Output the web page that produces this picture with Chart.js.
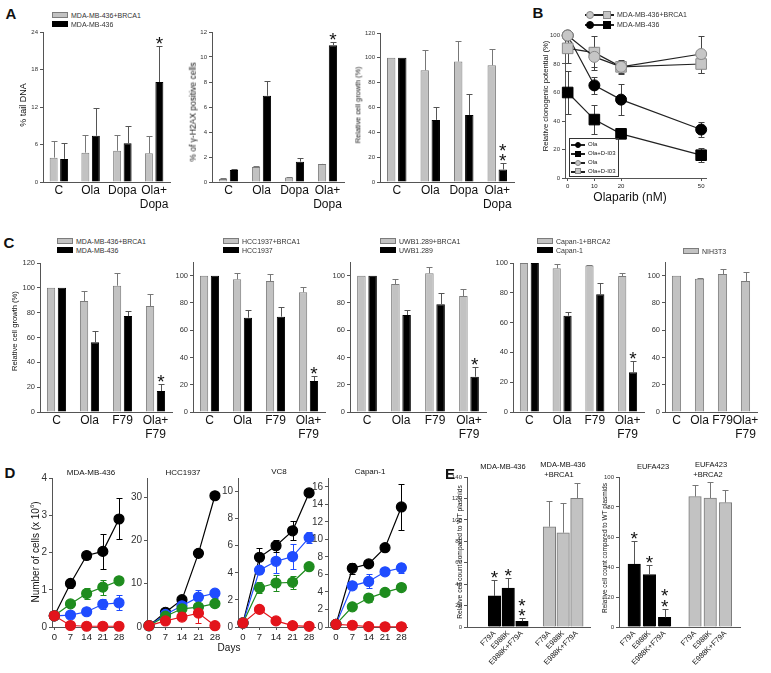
<!DOCTYPE html>
<html>
<head>
<meta charset="utf-8">
<script src="https://cdn.jsdelivr.net/npm/chart.js@4.4.1/dist/chart.umd.min.js"></script>
<style>
  body { margin: 0; background: #fff; }
  #stage { position: relative; width: 771px; height: 673px; overflow: hidden; background: #fff;
           font-family: "Liberation Sans", Arial, sans-serif; color: #111; }
  #stage canvas { position: absolute; }
  .t { position: absolute; white-space: nowrap; line-height: 1; }
  .sw { position: absolute; box-sizing: border-box; }
</style>
</head>
<body>
<div id="stage"></div>
<script>
// ---------- data ----------
// A: comet tail, gamma-H2AX, cell growth
const treatA = ['C', 'Ola', 'Dopa', ['Ola+', 'Dopa']];
const tailBrca1 = [3.9, 4.7, 5.0, 4.6];
const tailBrca1Err = [2.7, 2.9, 2.5, 2.7];
const tailMda = [3.7, 7.4, 6.2, 16.0];
const tailMdaErr = [2.5, 4.4, 2.7, 5.7];
const h2axBrca1 = [0.24, 1.2, 0.37, 1.45];
const h2axBrca1Err = [0.05, 0.08, 0.02, 0.03];
const h2axMda = [0.97, 6.9, 1.63, 10.95];
const h2axMdaErr = [0.08, 1.15, 0.27, 0.22];
const growthBrca1 = [100, 90, 97, 94];
const growthBrca1Err = [0, 16, 16.5, 13];
const growthMda = [100, 50, 54, 10];
const growthMdaErr = [0, 10.5, 16.5, 5.3];
const starsOne = [0, 0, 0, 1];
const starsTwo = [0, 0, 0, 2];

// B: clonogenic potential vs olaparib
const olaDose = [0, 10, 20, 50];
const doseTicks = [0, 10, 20, 50];
const clonoBrcaOla = [100, 85, 78, 87];
const clonoBrcaOlaErr = [0, 7, 4, 13];
const clonoBrcaDi03 = [91, 88, 78, 80];
const clonoBrcaDi03Err = [10, 12, 5, 6];
const clonoMdaOla = [100, 65, 55, 34];
const clonoMdaOlaErr = [0, 6, 11, 5];
const clonoMdaDi03 = [60, 41, 31, 16];
const clonoMdaDi03Err = [15, 10, 3, 5];

// C: relative cell growth, Ola / F79
const treatC = ['C', 'Ola', 'F79', ['Ola+', 'F79']];
const mdaBrca1 = [100, 89.4, 101.7, 85.3];
const mdaBrca1Err = [0, 8.3, 10, 9.4];
const mda436 = [100, 56.1, 77.3, 16.9];
const mda436Err = [0, 9.4, 4, 5.4];
const hccBrca1 = [100, 97.3, 96, 87.8];
const hccBrca1Err = [0, 4.4, 4.9, 4.1];
const hcc1937 = [100, 69.2, 69.9, 22.7];
const hcc1937Err = [0, 5.6, 6.8, 3.9];
const uwbBrca1 = [100, 93.8, 101.7, 85];
const uwbBrca1Err = [0, 3.5, 4.4, 5];
const uwb1289 = [100, 71.1, 79, 25.9];
const uwb1289Err = [0, 3.7, 8, 6.9];
const capanBrca2 = [100, 96.4, 98.4, 91.3];
const capanBrca2Err = [0, 2.7, 0.4, 2];
const capan1 = [100, 64.6, 79, 26.6];
const capan1Err = [0, 2.7, 7.4, 7.4];
const nih3t3 = [100, 97.8, 101.2, 96];
const nih3t3Err = [0, 0.5, 3.4, 6.6];

// D: growth curves (cells x 10^6)
const days = [0, 7, 14, 21, 28];
const dayTicks = [0, 7, 14, 21, 28];
const mdaBlack = [0.3, 1.17, 1.92, 2.03, 2.9];
const mdaBlackErr = [0, 0.13, 0.1, 0.48, 0.55];
const mdaBlue = [0.3, 0.32, 0.41, 0.61, 0.65];
const mdaBlueErr = [0, 0.05, 0.04, 0.13, 0.2];
const mdaGreen = [0.3, 0.62, 0.9, 1.07, 1.24];
const mdaGreenErr = [0, 0.07, 0.14, 0.2, 0.07];
const mdaRed = [0.3, 0.04, 0.02, 0.02, 0.02];
const hccBlack = [0.3, 3.4, 6.3, 17, 30.3];
const hccBlackErr = [0, 0.3, 0.4, 0.5, 0.4];
const hccBlue = [0.3, 2.9, 4.9, 6.9, 7.8];
const hccBlueErr = [0, 0.3, 0.6, 1.6, 1.0];
const hccGreen = [0.3, 2.5, 4.2, 4.6, 5.4];
const hccGreenErr = [0, 0.3, 0.4, 0.5, 0.4];
const hccRed = [0.3, 1.4, 2.3, 3.2, 0.3];
const hccRedErr = [0, 0.5, 0.4, 2.2, 0.2];
const vc8Black = [0.3, 5.15, 6.0, 7.1, 9.9];
const vc8BlackErr = [0, 0.7, 0.45, 0.7, 0.1];
const vc8Blue = [0.3, 4.2, 4.85, 5.2, 6.6];
const vc8BlueErr = [0, 0.3, 0.9, 0.9, 0.4];
const vc8Green = [0.3, 2.9, 3.25, 3.3, 4.45];
const vc8GreenErr = [0, 0.4, 0.6, 0.5, 0.15];
const vc8Red = [0.3, 1.3, 0.45, 0.1, 0.05];
const capBlack = [0.3, 6.7, 7.2, 9.05, 13.7];
const capBlackErr = [0, 0.6, 0.2, 0.2, 2.6];
const capBlue = [0.3, 4.7, 5.2, 6.3, 6.75];
const capBlueErr = [0, 0.2, 0.8, 0.4, 0.6];
const capGreen = [0.3, 2.3, 3.3, 3.95, 4.5];
const capGreenErr = [0, 0.3, 0.5, 0.2, 0.3];
const capRed = [0.3, 0.2, 0.05, 0.03, 0.03];

// E: mutant plasmids vs WT
const mutants = ['F79A', 'E988K', 'E988K+F79A'];
const e1Mut = [29, 36.4, 5.3];
const e1MutErr = [15.3, 9.4, 3.1];
const e1Wt = [93.6, 88, 120];
const e1WtErr = [24, 27.5, 14];
const e2Mut = [42, 35, 6.4];
const e2MutErr = [15.5, 6.5, 5.8];
const e2Wt = [87, 86, 83];
const e2WtErr = [8, 11, 8];
const mutStars = [1, 1, 2];

// ---------- helpers ----------
const stage = document.getElementById('stage');
const AXIS = '#555';
const GRAY = '#c2c2c2';
const GRAY_EDGE = '#7c7c7c';
const FONT = '"Liberation Sans", Arial, sans-serif';

Chart.defaults.font.family = FONT;
Chart.defaults.color = '#222';
Chart.defaults.animation = false;
Chart.defaults.plugins.legend.display = false;
Chart.defaults.plugins.tooltip.enabled = false;

// error bars (+ stars) drawn from dataset.errors through the y scale
function drawErrors(chart, behind) {
  const ctx = chart.ctx;
  chart.data.datasets.forEach((ds, i) => {
    if (!ds.errors) return;
    const isLine = (ds.type || chart.config.type) === 'line';
    if (isLine !== behind) return;
    const meta = chart.getDatasetMeta(i);
    const ys = chart.scales[meta.yAxisID];
    ctx.save();
    ctx.strokeStyle = ds.errorColor || '#666';
    ctx.lineWidth = 1;
    meta.data.forEach((el, j) => {
      const raw = ds.data[j];
      const e = ds.errors[j];
      if (raw == null || !e) return;
      const v = typeof raw === 'object' ? raw.y : raw;
      const x = Math.round(el.x) + 0.5;
      const top = Math.round(ys.getPixelForValue(v + e)) + 0.5;
      const bot = isLine ? Math.round(ys.getPixelForValue(v - e)) + 0.5 : el.y;
      const cap = ds.cap || 3;
      ctx.beginPath();
      ctx.moveTo(x, bot); ctx.lineTo(x, top);
      ctx.moveTo(x - cap, top); ctx.lineTo(x + cap, top);
      if (isLine) { ctx.moveTo(x - cap, bot); ctx.lineTo(x + cap, bot); }
      ctx.stroke();
    });
    ctx.restore();
  });
}
function drawStars(chart) {
  const ctx = chart.ctx;
  chart.data.datasets.forEach((ds, i) => {
    if (!ds.stars) return;
    const meta = chart.getDatasetMeta(i);
    const ys = chart.scales[meta.yAxisID];
    ctx.save();
    ctx.fillStyle = '#111';
    ctx.font = '19px ' + FONT;
    ctx.textAlign = 'center';
    ctx.textBaseline = 'alphabetic';
    meta.data.forEach((el, j) => {
      const n = ds.stars[j];
      if (!n) return;
      const top = ys.getPixelForValue(ds.data[j] + (ds.errors ? ds.errors[j] : 0));
      for (let k = 0; k < n; k++) {
        const cy = top - 7 - k * 10.5;
        ctx.fillText('*', el.x, cy + 11);
      }
    });
    ctx.restore();
  });
}
Chart.register({
  id: 'marks',
  beforeDatasetsDraw(chart) { drawErrors(chart, true); },
  afterDatasetsDraw(chart) { drawErrors(chart, false); drawStars(chart); }
});

function makeChart(box, config, yw, xh) {
  const padT = 8, padR = 8;
  const c = document.createElement('canvas');
  const w = box.r - box.l + yw + padR;
  const h = box.b - box.t + xh + padT;
  c.width = w; c.height = h;
  c.style.width = w + 'px'; c.style.height = h + 'px';
  c.style.left = (box.l - yw) + 'px';
  c.style.top = (box.t - padT) + 'px';
  stage.appendChild(c);
  config.options.responsive = false;
  config.options.layout = { padding: { top: padT, right: padR, left: 0, bottom: 0 } };
  config.options.scales.x.afterFit = s => { s.height = xh; };
  config.options.scales.y.afterFit = s => { s.width = yw; };
  return new Chart(c, config);
}

function yAxis(min, max, step, size) {
  return {
    min, max,
    border: { display: true, color: AXIS, width: 1 },
    grid: { display: true, drawOnChartArea: false, drawTicks: true, tickLength: 3, color: AXIS },
    ticks: { stepSize: step, includeBounds: false, padding: 2, color: '#333', font: { size } }
  };
}
function catAxis(size) {
  return {
    type: 'category',
    border: { display: true, color: AXIS, width: 1 },
    grid: { display: false, drawTicks: false, tickLength: 0 },
    ticks: { autoSkip: false, maxRotation: 0, padding: 1, color: '#111',
             font: { size, lineHeight: 1.2 } }
  };
}
function linAxis(min, max, tickList, size) {
  return {
    type: 'linear', min, max,
    border: { display: true, color: AXIS, width: 1 },
    grid: { display: true, drawOnChartArea: false, drawTicks: true, tickLength: 3, color: AXIS },
    ticks: { padding: 2, color: '#222', font: { size } },
    afterBuildTicks: s => { s.ticks = tickList.map(v => ({ value: v })); }
  };
}
function grayBars(data, errors, stars) {
  return { data, errors, stars, backgroundColor: GRAY, borderColor: GRAY_EDGE, borderWidth: 1,
           errorColor: '#777', categoryPercentage: 0.66, barPercentage: 0.76 };
}
function blackBars(data, errors, stars) {
  return { data, errors, stars, backgroundColor: '#000', borderColor: '#000', borderWidth: 1,
           errorColor: '#555', categoryPercentage: 0.66, barPercentage: 0.76 };
}
function pairChart(box, cats, g, ge, k, ke, ks, yMin, yMax, step, tick) {
  return makeChart(box, {
    type: 'bar',
    data: { labels: cats, datasets: [grayBars(g, ge), blackBars(k, ke, ks)] },
    options: { scales: { x: catAxis(12), y: yAxis(yMin, yMax, step, tick) } }
  }, 22, 40);
}

// ---------- panel A ----------
pairChart({ l: 43, t: 32, r: 170, b: 182 }, treatA, tailBrca1, tailBrca1Err, tailMda, tailMdaErr, starsOne, 0, 24, 6, 6);
pairChart({ l: 212, t: 32, r: 344, b: 182 }, treatA, h2axBrca1, h2axBrca1Err, h2axMda, h2axMdaErr, starsOne, 0, 12, 2, 6);
pairChart({ l: 380, t: 33, r: 514, b: 182 }, treatA, growthBrca1, growthBrca1Err, growthMda, growthMdaErr, starsTwo, 0, 120, 20, 6);

// ---------- panel B ----------
function xy(xs, ys) { return xs.map((x, i) => ({ x, y: ys[i] })); }
function clonoSet(ys, errs, shape, dark) {
  return {
    data: xy(olaDose, ys), errors: errs, clip: false,
    borderColor: '#222', borderWidth: 1.2,
    pointStyle: shape, pointRadius: shape === 'rect' ? 7.5 : 5.5,
    pointBackgroundColor: dark ? '#000' : '#c6c6c6',
    pointBorderColor: dark ? '#000' : '#8a8a8a', pointBorderWidth: 1,
    errorColor: '#444', cap: 3
  };
}
makeChart({ l: 565, t: 35, r: 707, b: 178 }, {
  type: 'line',
  data: { datasets: [
    clonoSet(clonoBrcaOla, clonoBrcaOlaErr, 'circle', false),
    clonoSet(clonoBrcaDi03, clonoBrcaDi03Err, 'rect', false),
    clonoSet(clonoMdaOla, clonoMdaOlaErr, 'circle', true),
    clonoSet(clonoMdaDi03, clonoMdaDi03Err, 'rect', true)
  ] },
  options: { scales: { x: linAxis(-1, 52, doseTicks, 6), y: yAxis(0, 100, 20, 6) } }
}, 20, 16);

// ---------- panel C ----------
const cBoxes = [
  { l: 40, t: 263, r: 172, b: 412 },
  { l: 193, t: 262, r: 325, b: 412 },
  { l: 350, t: 262, r: 486, b: 412 },
  { l: 513, t: 263, r: 644, b: 412 }
];
pairChart(cBoxes[0], treatC, mdaBrca1, mdaBrca1Err, mda436, mda436Err, starsOne, 0, 120, 20, 7.5);
pairChart(cBoxes[1], treatC, hccBrca1, hccBrca1Err, hcc1937, hcc1937Err, starsOne, 0, 110, 20, 7.5);
pairChart(cBoxes[2], treatC, uwbBrca1, uwbBrca1Err, uwb1289, uwb1289Err, starsOne, 0, 110, 20, 7.5);
pairChart(cBoxes[3], treatC, capanBrca2, capanBrca2Err, capan1, capan1Err, starsOne, 0, 100, 20, 7.5);
makeChart({ l: 665, t: 262, r: 757, b: 412 }, {
  type: 'bar',
  data: { labels: treatC, datasets: [Object.assign(grayBars(nih3t3, nih3t3Err),
          { categoryPercentage: 0.5, barPercentage: 0.8 })] },
  options: { scales: { x: catAxis(12), y: yAxis(0, 110, 20, 7.5) } }
}, 22, 40);

// ---------- panel D ----------
const COLORS = { black: '#000000', blue: '#1f4cff', green: '#1e8c1e', red: '#e3141b' };
function growthSet(ys, errs, color) {
  return {
    data: xy(days, ys), errors: errs, clip: false,
    borderColor: color, borderWidth: 1.2,
    pointRadius: 5, pointBackgroundColor: color, pointBorderColor: color,
    errorColor: color, cap: 3
  };
}
function growthChart(box, xmin, xmax, ymax, step, black, blackErr, blue, blueErr, green, greenErr, red, redErr) {
  makeChart(box, {
    type: 'line',
    data: { datasets: [
      growthSet(red, redErr, COLORS.red),
      growthSet(green, greenErr, COLORS.green),
      growthSet(blue, blueErr, COLORS.blue),
      growthSet(black, blackErr, COLORS.black)
    ] },
    options: { scales: { x: linAxis(xmin, xmax, dayTicks, 9.5), y: yAxis(0, ymax, step, 10) } }
  }, 20, 20);
}
growthChart({ l: 52, t: 478, r: 122, b: 627 }, -1, 29.3, 4, 1,
  mdaBlack, mdaBlackErr, mdaBlue, mdaBlueErr, mdaGreen, mdaGreenErr, mdaRed, null);
growthChart({ l: 147, t: 478, r: 218, b: 627 }, -0.85, 29.3, 34.4, 10,
  hccBlack, hccBlackErr, hccBlue, hccBlueErr, hccGreen, hccGreenErr, hccRed, hccRedErr);
growthChart({ l: 238, t: 478, r: 315, b: 627 }, -2.1, 30.5, 11, 2,
  vc8Black, vc8BlackErr, vc8Blue, vc8BlueErr, vc8Green, vc8GreenErr, vc8Red, null);
growthChart({ l: 328, t: 478, r: 407, b: 627 }, -3.4, 30.4, 17, 2,
  capBlack, capBlackErr, capBlue, capBlueErr, capGreen, capGreenErr, capRed, null);

// ---------- panel E ----------
function slots(vals, start, n) {
  const out = new Array(n).fill(null);
  vals.forEach((v, i) => { out[start + i] = v; });
  return out;
}
function mutantChart(box, mut, mutErr, wt, wtErr, ymax, step, first, n) {
  const labels = slots(mutants, first, n).map(v => v || '');
  mutants.forEach((m, i) => { labels[first + 4 + i] = m; });
  const bar = { grouped: false, barThickness: 12.5, borderWidth: 1 };
  const x = catAxis(7.5);
  x.offset = false;
  x.ticks.minRotation = 45;
  x.ticks.maxRotation = 45;
  x.ticks.padding = 2;
  makeChart(box, {
    type: 'bar',
    data: { labels, datasets: [
      Object.assign({ data: slots(mut, first, n), errors: slots(mutErr, first, n), stars: slots(mutStars, first, n),
        backgroundColor: '#000', borderColor: '#000', errorColor: '#555' }, bar),
      Object.assign({ data: slots(wt, first + 4, n), errors: slots(wtErr, first + 4, n),
        backgroundColor: GRAY, borderColor: GRAY_EDGE, errorColor: '#777' }, bar)
    ] },
    options: { scales: { x, y: yAxis(0, ymax, step, 6) } }
  }, 20, 46);
}
mutantChart({ l: 467, t: 477, r: 591, b: 627 }, e1Mut, e1MutErr, e1Wt, e1WtErr, 140, 20, 2, 10);
mutantChart({ l: 619, t: 477, r: 741, b: 627 }, e2Mut, e2MutErr, e2Wt, e2WtErr, 100, 20, 1, 9);

// ---------- text overlays ----------
function text(str, x, y, size, mode, extra) {
  const d = document.createElement('div');
  d.className = 't';
  d.innerHTML = str;
  d.style.left = x + 'px';
  d.style.top = y + 'px';
  d.style.fontSize = size + 'px';
  if (mode === 'c') d.style.transform = 'translate(-50%,-50%)';
  else if (mode === 'v') d.style.transform = 'translate(-50%,-50%) rotate(-90deg)';
  else d.style.transform = 'translate(0,-50%)';
  if (extra) Object.assign(d.style, extra);
  stage.appendChild(d);
}
function swatch(x, y, w, h, fill, edge, round) {
  const d = document.createElement('div');
  d.className = 'sw';
  Object.assign(d.style, { left: x + 'px', top: y + 'px', width: w + 'px', height: h + 'px',
    background: fill, border: '1px solid ' + edge, borderRadius: round ? '50%' : '0' });
  stage.appendChild(d);
}
function barLegend(x, y, top, bottom) {
  swatch(x, y - 3, 16, 6, GRAY, GRAY_EDGE);
  text(top, x + 19, y, 7, 'l', { color: '#333' });
  if (bottom) {
    swatch(x, y + 6, 16, 6, '#000', '#000');
    text(bottom, x + 19, y + 9, 7, 'l', { color: '#333' });
  }
}
function lineMark(x, y, len, shapes, fill, edge, size) {
  swatch(x, y, len, 1, '#222', '#222');
  shapes.forEach(s => {
    swatch(s.x - size / 2, y - size / 2 + 0.5, size, size, fill, edge, s.round);
  });
}

const BOLD = { fontWeight: 'bold' };
text('A', 11, 13, 15, 'c', BOLD);
text('B', 538, 12, 15, 'c', BOLD);
text('C', 9, 242, 15, 'c', BOLD);
text('D', 10, 472, 15, 'c', BOLD);
text('E', 450, 473, 15, 'c', BOLD);

barLegend(52, 15, 'MDA-MB-436+BRCA1', 'MDA-MB-436');
barLegend(57, 241, 'MDA-MB-436+BRCA1', 'MDA-MB-436');
barLegend(223, 241, 'HCC1937+BRCA1', 'HCC1937');
barLegend(380, 241, 'UWB1.289+BRCA1', 'UWB1.289');
barLegend(537, 241, 'Capan-1+BRCA2', 'Capan-1');
barLegend(683, 251, 'NIH3T3', null);

text('% tail DNA', 23, 105, 9, 'v');
text('% of &gamma;-H2AX positive cells', 193, 112, 8.5, 'v');
text('Relative cell growth (%)', 358, 105, 7.3, 'v');
text('Relative clonogenic potential (%)', 546, 96, 7.6, 'v');
text('Olaparib (nM)', 630, 197, 12, 'c');
text('Relative cell growth (%)', 15, 331, 7.6, 'v');
text('Number of cells (x 10<sup style="font-size:6px">6</sup>)', 35, 552, 10, 'v');
text('Days', 229, 648, 10, 'c');
text('Relative cell count compared to WT plasmids', 460, 552, 6.7, 'v');
text('Relative cell count compared to WT plasmids', 605, 548, 6.5, 'v');

text('MDA-MB-436', 91, 473, 8, 'c');
text('HCC1937', 183, 473, 8, 'c');
text('VC8', 279, 472, 8, 'c');
text('Capan-1', 370, 472, 8, 'c');
text('MDA-MB-436', 503, 467, 7.5, 'c');
text('MDA-MB-436', 563, 465, 7.5, 'c');
text('+BRCA1', 559, 475, 7.5, 'c');
text('EUFA423', 653, 467, 7.5, 'c');
text('EUFA423', 711, 465, 7.5, 'c');
text('+BRCA2', 708, 475, 7.5, 'c');

// B legends
lineMark(585, 14, 29, [{ x: 590, round: true }, { x: 607, round: false }], '#c6c6c6', '#888', 8);
text('MDA-MB-436+BRCA1', 617, 14, 7, 'l', { color: '#333' });
lineMark(585, 24, 29, [{ x: 590, round: true }, { x: 607, round: false }], '#000', '#000', 8);
text('MDA-MB-436', 617, 24, 7, 'l', { color: '#333' });
swatch(569, 138, 50, 39, 'transparent', '#333');
const inset = [
  { y: 144, round: true, fill: '#000', edge: '#000', label: 'Ola' },
  { y: 153, round: false, fill: '#000', edge: '#000', label: 'Ola+D-I03' },
  { y: 162, round: true, fill: '#c6c6c6', edge: '#888', label: 'Ola' },
  { y: 170.5, round: false, fill: '#c6c6c6', edge: '#888', label: 'Ola+D-I03' }
];
inset.forEach(r => {
  lineMark(571, r.y, 14, [{ x: 578, round: r.round }], r.fill, r.edge, 6);
  text(r.label, 588, r.y, 6, 'l', { color: '#222' });
});
</script>
</body>
</html>
